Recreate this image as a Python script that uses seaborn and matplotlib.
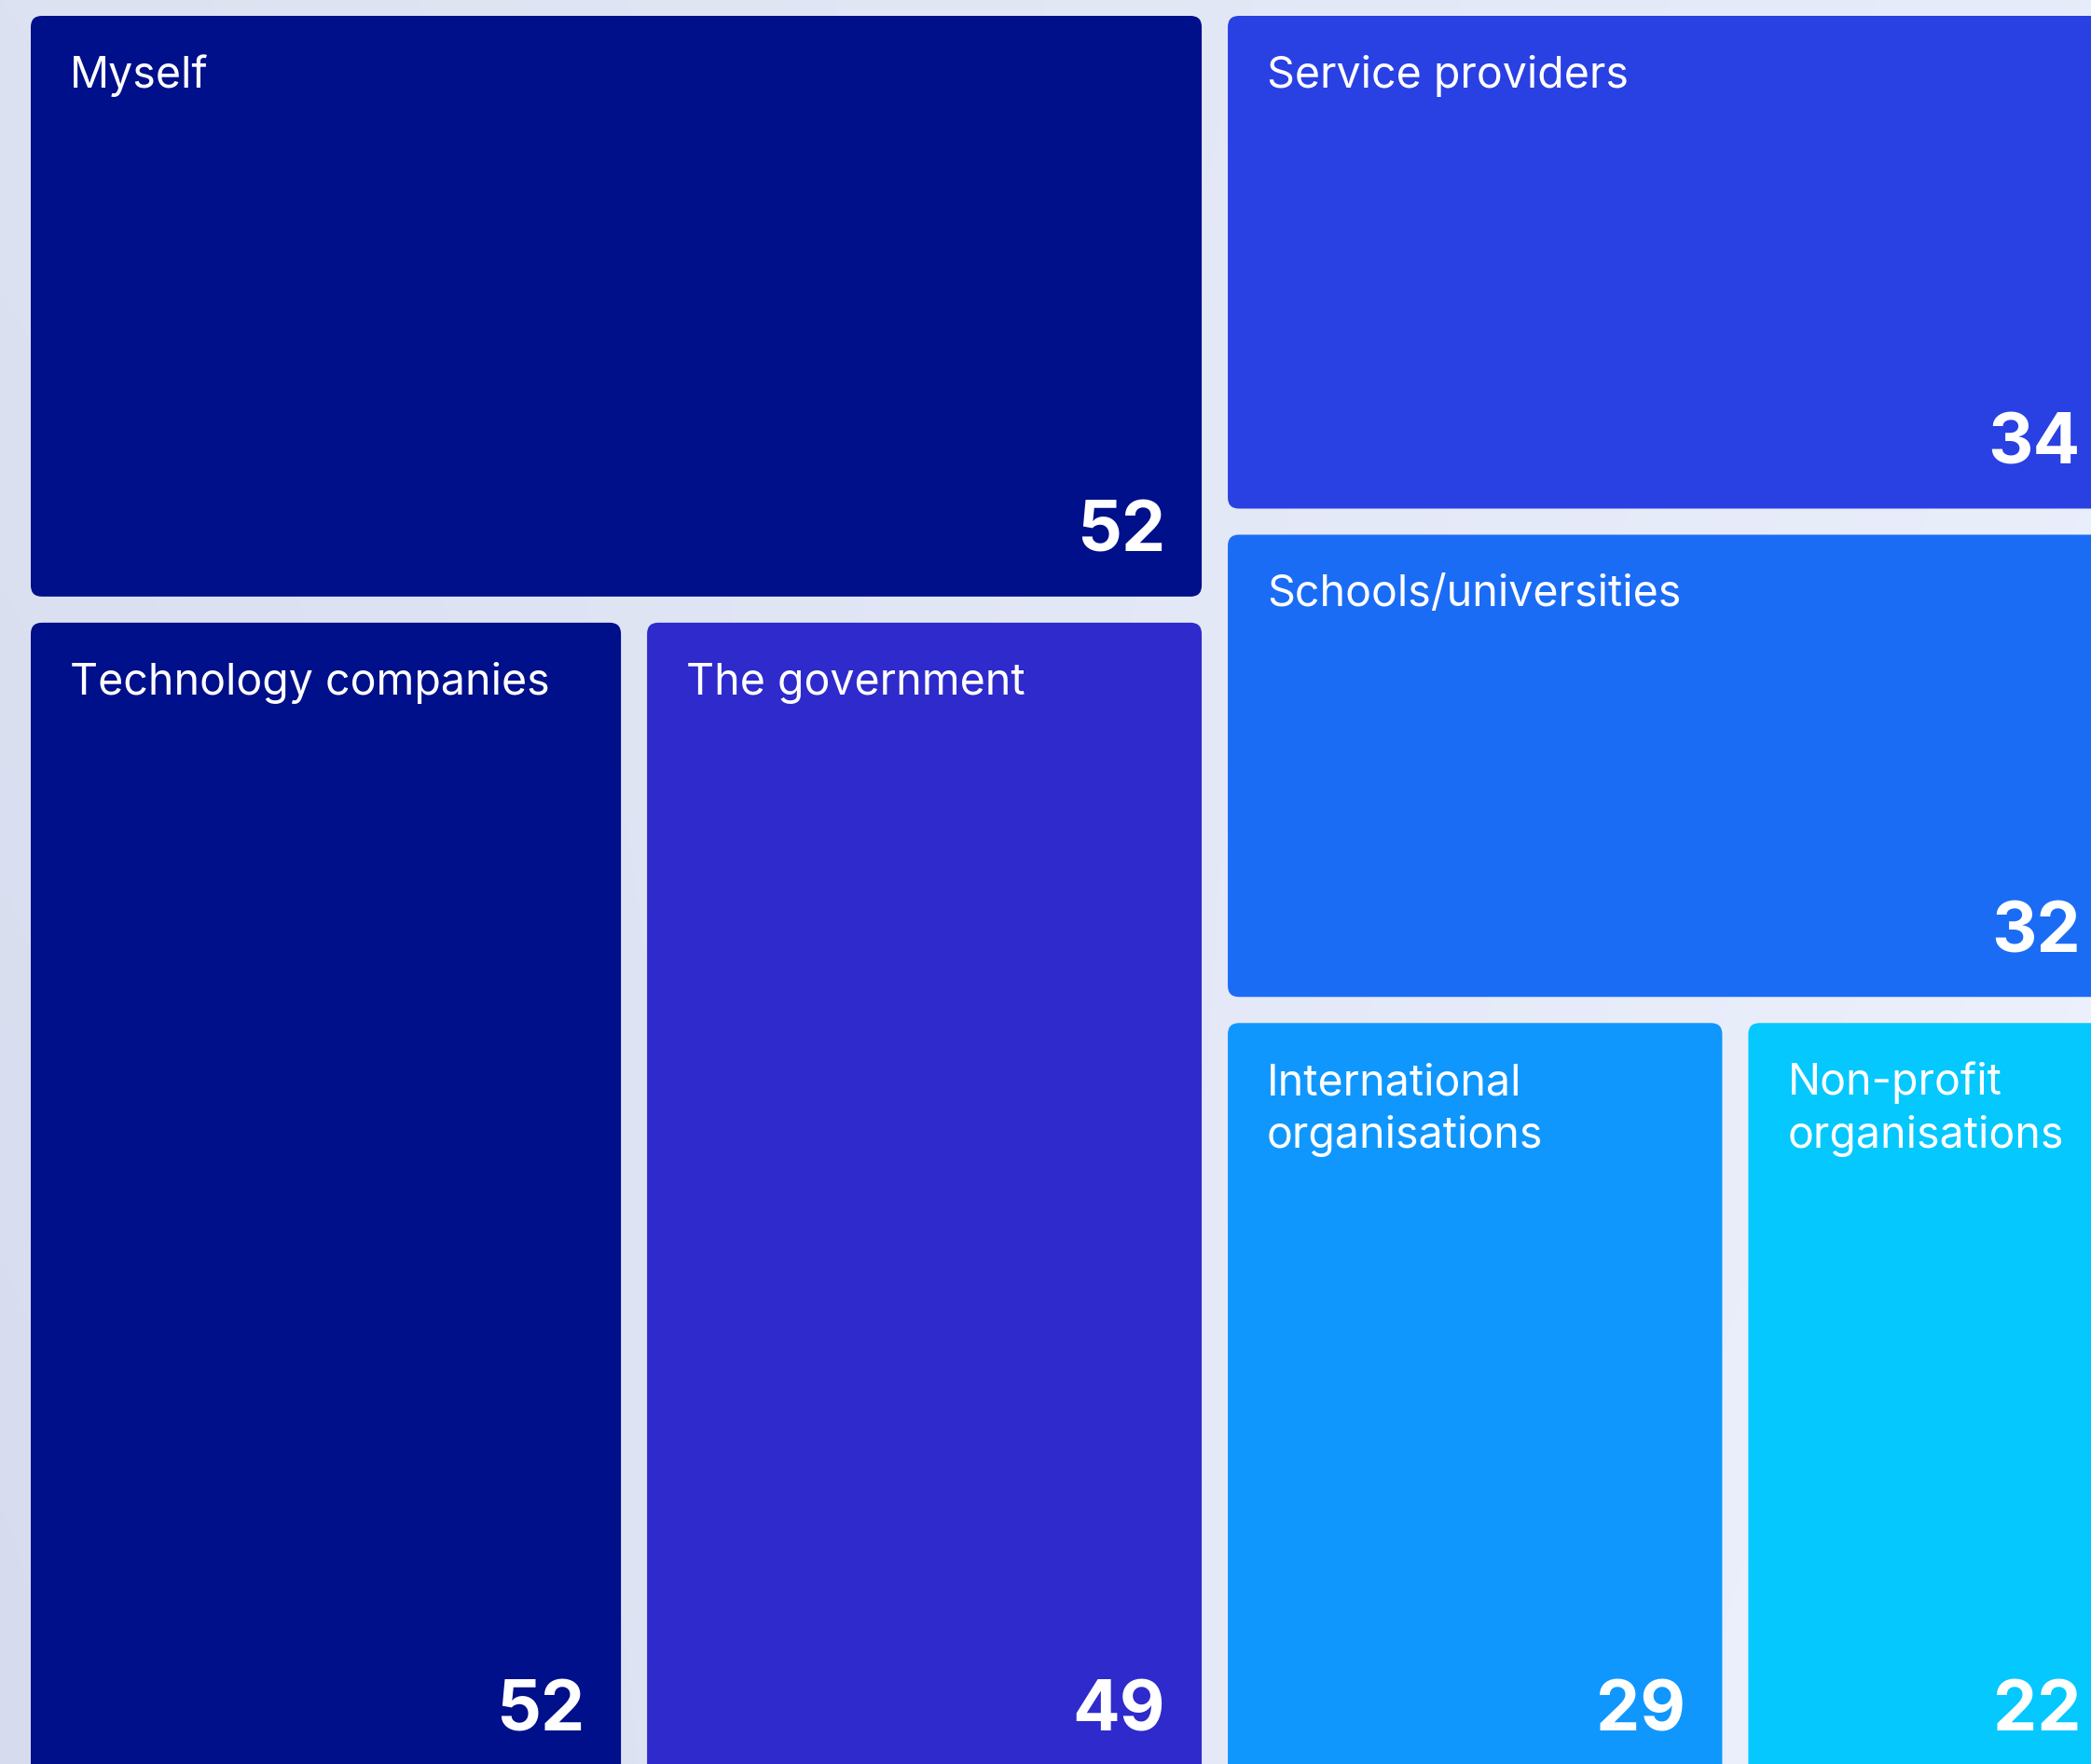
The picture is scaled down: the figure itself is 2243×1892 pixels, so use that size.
import numpy as np
import matplotlib
matplotlib.use("Agg")
import matplotlib.pyplot as plt
from matplotlib.patches import FancyBboxPatch
from matplotlib.colors import to_rgb
import seaborn as sns

# Who is responsible for protecting people online (share of respondents)
categories = ["Myself", "Technology companies", "The government",
              "Service providers", "Schools/universities",
              "International organisations", "Non-profit organisations"]
tile_labels = [["Myself"], ["Technology companies"], ["The government"],
               ["Service providers"], ["Schools/universities"],
               ["International", "organisations"],
               ["Non-profit", "organisations"]]
values = [52, 52, 49, 34, 32, 29, 22]
tile_colors = ["#000F8A", "#000F8A", "#2E2ACB", "#2940E3",
               "#1B6CF5", "#1097FE", "#04C8FE"]

# Nested grouping of tiles: columns -> stacked rows -> side-by-side
groups = [[0, [1, 2]], [3, 4, [5, 6]]]


def total(node):
    if isinstance(node, int):
        return values[node]
    return sum(total(c) for c in node)


def slice_layout(node, x0, y0, x1, y1, horizontal, out):
    if isinstance(node, int):
        out[node] = (x0, y0, x1, y1)
        return
    sizes = [total(c) for c in node]
    s = float(sum(sizes))
    pos = x0 if horizontal else y0
    span = (x1 - x0) if horizontal else (y1 - y0)
    for child, size in zip(node, sizes):
        step = span * size / s
        if horizontal:
            slice_layout(child, pos, y0, pos + step, y1, False, out)
        else:
            slice_layout(child, x0, pos, x1, pos + step, True, out)
        pos += step


sns.set_theme(style="white")
plt.rcParams["font.family"] = ["Inter", "DejaVu Sans"]

W, H = 2243, 1892
fig = plt.figure(figsize=(W / 100, H / 100), dpi=100)
ax = fig.add_axes([0, 0, 1, 1])
ax.set_xlim(0, W)
ax.set_ylim(H, 0)
ax.set_axis_off()

# soft page background: bilinear blend between four corner tints
tl, tr, bl, br = (np.array(to_rgb(c)) for c in
                  ["#DDE2F2", "#E7ECFA", "#D6DCEE", "#F0F3FE"])
u = np.linspace(0, 1, 300)[None, :, None]
v = np.linspace(0, 1, 250)[:, None, None]
bg = (1 - v) * ((1 - u) * tl + u * tr) + v * ((1 - u) * bl + u * br)
ax.imshow(bg, extent=[0, W, H, 0], aspect="auto", zorder=0,
          interpolation="bicubic")

rects = {}
slice_layout(groups, 19, 3, 2285, 1918, True, rects)

pad = 14
for i, (x0, y0, x1, y1) in rects.items():
    bx0, by0, bx1, by1 = x0 + pad, y0 + pad, x1 - pad, y1 - pad
    ax.add_patch(FancyBboxPatch((bx0, by0), bx1 - bx0, by1 - by0,
                                boxstyle="round,pad=0,rounding_size=12",
                                facecolor=tile_colors[i], edgecolor="none",
                                zorder=2))
    for k, line in enumerate(tile_labels[i]):
        ax.text(bx0 + 42, by0 + 77 + 57 * k, line, color="white",
                fontsize=33.5, ha="left", va="baseline", zorder=3)
    ax.text(bx1 - 39, by1 - 48, f"{values[i]}", color="white",
            fontsize=54, fontweight="bold", ha="right", va="baseline",
            zorder=3)

fig.savefig("out.png", dpi=100)
